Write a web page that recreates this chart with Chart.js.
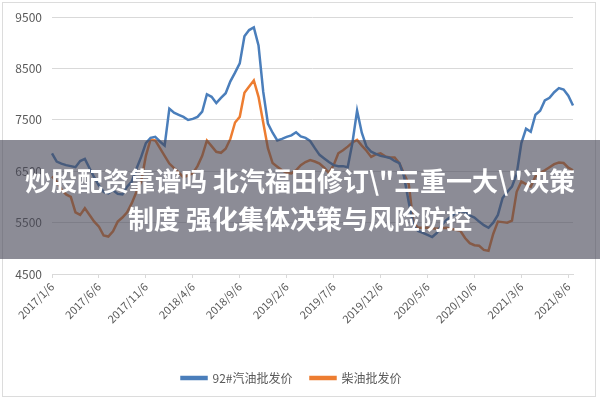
<!DOCTYPE html>
<html>
<head>
<meta charset="utf-8">
<script src="https://cdn.jsdelivr.net/npm/chart.js@4.4.0/dist/chart.umd.min.js"></script>
<style>
  body { margin: 0; background: #fff; }
  #wrap { position: relative; width: 600px; height: 400px; }
  #banner {
    position: absolute; left: 0; top: 140px; width: 600px; height: 119px;
    background: rgba(70, 70, 85, 0.62);
    color: #fff; font-family: "Noto Sans CJK SC", sans-serif; font-weight: bold;
    font-size: 26px; line-height: 38px; text-align: center;
    padding-top: 21px; box-sizing: border-box;
  }
</style>
</head>
<body>
<div id="wrap">
  <canvas id="line-price" width="600" height="400"></canvas>
  <div id="banner">炒股配资靠谱吗 北汽福田修订\"三重一大\"决策<br>制度 强化集体决策与风险防控</div>
</div>
<script>
// semi-monthly dates, label shown every 10 points
var dates = [
  "2017/1/6","2017/1/21","2017/2/6","2017/2/21","2017/3/6","2017/3/21","2017/4/6","2017/4/21","2017/5/6","2017/5/21",
  "2017/6/6","2017/6/21","2017/7/6","2017/7/21","2017/8/6","2017/8/21","2017/9/6","2017/9/21","2017/10/6","2017/10/21",
  "2017/11/6","2017/11/21","2017/12/6","2017/12/21","2018/1/6","2018/1/21","2018/2/6","2018/2/21","2018/3/6","2018/3/21",
  "2018/4/6","2018/4/21","2018/5/6","2018/5/21","2018/6/6","2018/6/21","2018/7/6","2018/7/21","2018/8/6","2018/8/21",
  "2018/9/6","2018/9/21","2018/10/6","2018/10/21","2018/11/6","2018/11/21","2018/12/6","2018/12/21","2019/1/6","2019/1/21",
  "2019/2/6","2019/2/21","2019/3/6","2019/3/21","2019/4/6","2019/4/21","2019/5/6","2019/5/21","2019/6/6","2019/6/21",
  "2019/7/6","2019/7/21","2019/8/6","2019/8/21","2019/9/6","2019/9/21","2019/10/6","2019/10/21","2019/11/6","2019/11/21",
  "2019/12/6","2019/12/21","2020/1/6","2020/1/21","2020/2/6","2020/2/21","2020/3/6","2020/3/21","2020/4/6","2020/4/21",
  "2020/5/6","2020/5/21","2020/6/6","2020/6/21","2020/7/6","2020/7/21","2020/8/6","2020/8/21","2020/9/6","2020/9/21",
  "2020/10/6","2020/10/21","2020/11/6","2020/11/21","2020/12/6","2020/12/21","2021/1/6","2021/1/21","2021/2/6","2021/2/21",
  "2021/3/6","2021/3/21","2021/4/6","2021/4/21","2021/5/6","2021/5/21","2021/6/6","2021/6/21","2021/7/6","2021/7/21",
  "2021/8/6","2021/8/21"
];

var gasoline92 = [
  6850,6690,6650,6620,6600,6580,6700,6740,6560,6380,
  6220,6100,6070,6130,6060,6050,6200,6300,6550,6780,
  7050,7150,7170,7080,7000,7720,7640,7600,7560,7500,
  7520,7560,7660,8000,7950,7830,7930,8020,8250,8420,
  8600,9130,9250,9300,8950,8050,7430,7250,7100,7130,
  7170,7200,7260,7180,7150,7090,6950,6820,6750,6680,
  6620,6600,6600,6580,7050,7680,7250,6980,6880,6840,
  6800,6780,6760,6700,6660,6400,5900,5450,5340,5300,
  5260,5220,5300,5450,5550,5620,5680,5730,5700,5640,
  5600,5520,5450,5400,5500,5650,5980,6100,6200,6450,
  7050,7330,7270,7600,7680,7880,7930,8040,8120,8090,
  7970,7780
];

var diesel = [
  6400,6300,6150,6050,6000,5700,5650,5780,5650,5520,
  5420,5250,5230,5330,5520,5600,5700,5880,6100,6300,
  6800,7120,7100,6950,6800,6650,6560,6480,6380,6420,
  6460,6600,6800,7100,6990,6880,6860,6940,7130,7450,
  7560,8030,8150,8270,7950,7450,6950,6660,6590,6520,
  6470,6460,6520,6620,6680,6720,6690,6650,6570,6470,
  6620,6850,6910,6980,7060,7110,7000,6900,6780,6830,
  6850,6790,6770,6770,6660,6450,6250,5500,5400,5400,
  5400,5390,5380,5390,5400,5380,5360,5340,5200,5100,
  5060,5050,4970,4950,5280,5520,5510,5500,5540,6100,
  6300,6250,6200,6400,6470,6520,6580,6640,6670,6660,
  6570,6520
];

var seriesNames = ["92#汽油批发价", "柴油批发价"];

var textColor = "#595959";
var gridColor = "#d9d9d9";

var framePlugin = {
  id: "frame",
  afterDraw: function(chart) {
    var c = chart.ctx;
    c.save();
    c.strokeStyle = "#dcdcdc";
    c.lineWidth = 1;
    c.strokeRect(2.5, 2.5, 593, 394);
    c.restore();
  }
};

var ctx = document.getElementById("line-price");

var data = {
  labels : dates,
  datasets : [
    {
      label : seriesNames[0],
      data : gasoline92,
      borderColor : "#4a7ebb",
      backgroundColor : "#4a7ebb",
      borderWidth : 2.5,
      fill : false,
      tension : 0,
      pointRadius : 0
    },
    {
      label : seriesNames[1],
      data : diesel,
      borderColor : "#ed7d31",
      backgroundColor : "#ed7d31",
      borderWidth : 2.5,
      fill : false,
      tension : 0,
      pointRadius : 0
    }
  ]
};

var options = {
  responsive : false,
  animation : false,
  layout : { padding : { top : 16, left : 10, right : 27, bottom : 6 } },
  plugins : {
    legend : {
      display : true,
      position : "bottom",
      labels : {
        boxWidth : 25,
        boxHeight : 2,
        padding : 18,
        color : textColor,
        font : { family : "'Noto Sans CJK SC', sans-serif", size : 12 }
      }
    },
    tooltip : { enabled : false }
  },
  scales : {
    x : {
      type : "category",
      offset : false,
      grid : {
        drawOnChartArea : false,
        drawTicks : true,
        tickLength : 4,
        color : function(c) { return (c.index % 10 === 0) ? gridColor : "rgba(0,0,0,0)"; }
      },
      border : { color : gridColor },
      ticks : {
        autoSkip : false,
        maxRotation : 45,
        minRotation : 45,
        padding : 2,
        color : textColor,
        font : { family : "'Noto Sans CJK SC', sans-serif", size : 11 },
        callback : function(v, i) { return (i % 10 === 0) ? dates[i] : ""; }
      },
      afterFit : function(s) { s.height = 80; }
    },
    y : {
      min : 4500,
      max : 9500,
      ticks : {
        stepSize : 1000,
        padding : 10,
        color : textColor,
        font : { family : "'Noto Sans CJK SC', sans-serif", size : 12 },
        callback : function(v) { return String(v); }
      },
      grid : { color : gridColor, drawTicks : false },
      border : { display : false },
      afterFit : function(s) { s.width = 42; }
    }
  }
};

var chart = new Chart(ctx, {
  type : "line",
  data : data,
  options : options,
  plugins : [framePlugin]
});
</script>
</body>
</html>
